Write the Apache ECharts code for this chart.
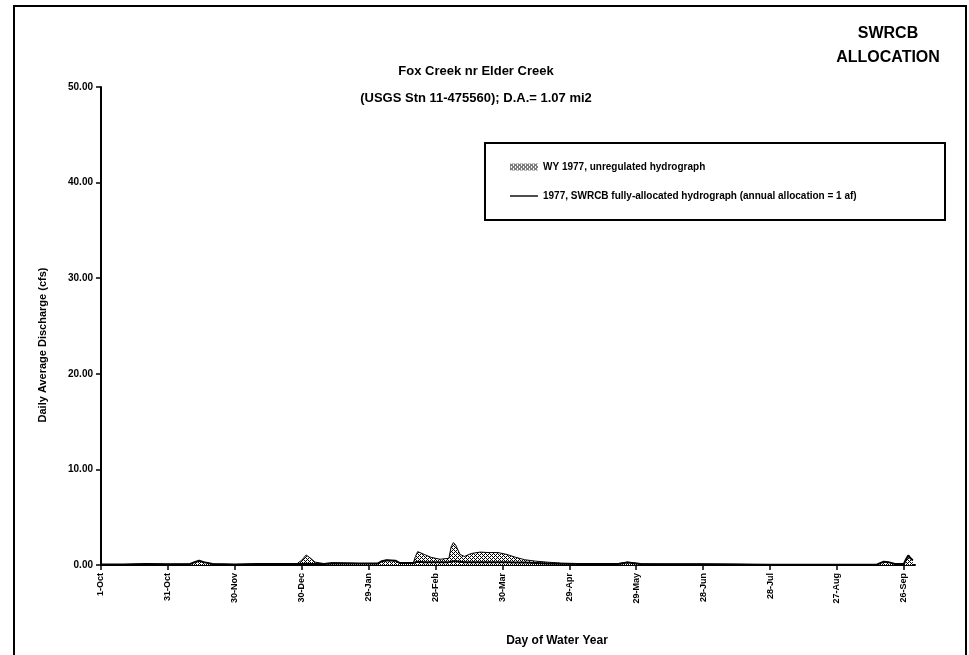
<!DOCTYPE html>
<html>
<head>
<meta charset="utf-8">
<script src="https://cdn.jsdelivr.net/npm/echarts@6/dist/echarts.min.js"></script>
<style>
  html, body { margin: 0; padding: 0; background: #fff; }
  #chart { width: 969px; height: 655px; }
</style>
</head>
<body>
<div id="chart"></div>
<script>
// day of water year (0 = 1-Oct-1976) where the hydrograph was read
const flowDays = [0, 10, 20, 30, 40, 42, 44, 46, 50, 60, 70, 80, 88, 90, 92, 94, 96, 100, 104, 112, 116, 124, 126, 128, 132, 134, 140, 141, 142, 145, 148, 152, 156, 157, 158, 159, 161, 163, 166, 170, 174, 178, 182, 186, 190, 195, 200, 206, 215, 224, 232, 236, 238, 242, 255, 270, 285, 300, 320, 340, 348, 351, 353, 356, 360, 361, 362, 363, 364];
const unregulatedCfs = [0.05, 0.05, 0.1, 0.08, 0.1, 0.3, 0.45, 0.3, 0.1, 0.05, 0.1, 0.1, 0.15, 0.5, 1.05, 0.7, 0.3, 0.15, 0.25, 0.2, 0.15, 0.15, 0.4, 0.5, 0.45, 0.2, 0.2, 0.9, 1.4, 1.1, 0.8, 0.6, 0.7, 1.9, 2.35, 2.1, 1.1, 0.9, 1.2, 1.35, 1.3, 1.3, 1.1, 0.8, 0.55, 0.4, 0.3, 0.2, 0.15, 0.15, 0.15, 0.3, 0.25, 0.12, 0.1, 0.1, 0.08, 0.02, 0.02, 0.03, 0.05, 0.35, 0.3, 0.1, 0.1, 0.6, 1.0, 0.7, 0.5];
const allocatedCfs = [0.05, 0.05, 0.1, 0.08, 0.1, 0.3, 0.45, 0.3, 0.1, 0.05, 0.1, 0.1, 0.1, 0.1, 0.12, 0.1, 0.1, 0.1, 0.15, 0.15, 0.15, 0.15, 0.4, 0.5, 0.45, 0.2, 0.2, 0.3, 0.35, 0.3, 0.3, 0.3, 0.3, 0.35, 0.4, 0.4, 0.35, 0.3, 0.3, 0.3, 0.3, 0.3, 0.3, 0.25, 0.25, 0.2, 0.15, 0.12, 0.1, 0.1, 0.1, 0.25, 0.2, 0.1, 0.08, 0.08, 0.05, 0.02, 0.02, 0.03, 0.05, 0.35, 0.3, 0.1, 0.1, 0.6, 1.0, 0.7, 0.5];

const tickDays = [0, 30, 60, 90, 120, 150, 180, 210, 240, 270, 300, 330, 360];
const tickLabels = ['1-Oct', '31-Oct', '30-Nov', '30-Dec', '29-Jan', '28-Feb', '30-Mar', '29-Apr', '29-May', '28-Jun', '28-Jul', '27-Aug', '26-Sep'];
const yTicks = [0, 10, 20, 30, 40, 50];

const seriesNames = ['WY 1977, unregulated hydrograph', '1977, SWRCB fully-allocated hydrograph (annual allocation = 1 af)'];

const font = '"Liberation Sans", Arial, sans-serif';

// cross-hatch fill like the scanned original
const hatch = document.createElement('canvas');
hatch.width = 4;
hatch.height = 4;
const hc = hatch.getContext('2d');
hc.fillStyle = '#fff';
hc.fillRect(0, 0, 4, 4);
hc.fillStyle = '#000';
[[0, 0], [2, 0], [1, 1], [0, 2], [2, 2], [3, 3]].forEach(([x, y]) => hc.fillRect(x, y, 1, 1));
const hatchFill = { image: hatch, repeat: 'repeat' };

const chart = echarts.init(document.getElementById('chart'), null, { renderer: 'canvas' });

chart.setOption({
  backgroundColor: '#fff',
  animation: false,
  textStyle: { fontFamily: font, color: '#000' },
  title: {
    text: 'Fox Creek nr Elder Creek\n(USGS Stn 11-475560); D.A.= 1.07 mi2',
    left: 471,
    top: 53,
    textAlign: 'center',
    textStyle: { fontFamily: font, fontSize: 13, fontWeight: 'bold', lineHeight: 27, color: '#000' }
  },
  graphic: [
    {
      type: 'rect',
      shape: { x: 14, y: 6, width: 952, height: 660 },
      style: { fill: 'none', stroke: '#000', lineWidth: 2 },
      silent: true
    },
    {
      type: 'text',
      x: 888,
      y: 22,
      style: {
        text: 'SWRCB\nALLOCATION',
        align: 'center',
        fontFamily: font, fontSize: 16, fontWeight: 'bold', lineHeight: 24, fill: '#000'
      }
    },
    {
      type: 'rect',
      shape: { x: 485, y: 143, width: 460, height: 77 },
      style: { fill: '#fff', stroke: '#000', lineWidth: 2 },
      z: 5
    },
    {
      type: 'text',
      x: 557,
      y: 641,
      style: {
        text: 'Day of Water Year',
        align: 'center', verticalAlign: 'middle',
        fontFamily: font, fontSize: 12, fontWeight: 'bold', fill: '#000'
      }
    },
    {
      type: 'text',
      x: 43,
      y: 345,
      rotation: Math.PI / 2,
      style: {
        text: 'Daily Average Discharge (cfs)',
        align: 'center', verticalAlign: 'middle',
        fontFamily: font, fontSize: 11, fontWeight: 'bold', fill: '#000'
      }
    }
  ],
  legend: {
    orient: 'vertical',
    left: 505,
    top: 157,
    itemGap: 19,
    itemWidth: 28,
    itemHeight: 7,
    z: 10,
    textStyle: { fontFamily: font, fontSize: 10, fontWeight: 'bold', color: '#000' },
    data: [
      { name: seriesNames[0], icon: 'rect', itemStyle: { color: hatchFill, borderWidth: 0 } },
      { name: seriesNames[1], icon: 'path://M0,0 L28,0 L28,1.4 L0,1.4 Z', itemStyle: { color: '#000' } }
    ]
  },
  grid: { left: 101, right: 54, top: 87, bottom: 90 },
  xAxis: {
    type: 'value',
    min: 0,
    max: 365,
    splitLine: { show: false },
    axisLine: { lineStyle: { color: '#000', width: 2 } },
    axisTick: { customValues: tickDays, length: 5, lineStyle: { color: '#000', width: 1.5 } },
    axisLabel: {
      customValues: tickDays,
      rotate: 90,
      margin: 8,
      fontFamily: font,
      fontSize: 9,
      fontWeight: 'bold',
      color: '#000',
      formatter: (v) => tickLabels[tickDays.indexOf(v)] || ''
    }
  },
  yAxis: {
    type: 'value',
    min: 0,
    max: 50,
    interval: 10,
    splitLine: { show: false },
    axisLine: { show: true, lineStyle: { color: '#000', width: 2 } },
    axisTick: { length: 5, lineStyle: { color: '#000', width: 1.5 } },
    axisLabel: {
      margin: 8,
      fontFamily: font,
      fontSize: 10,
      fontWeight: 'bold',
      color: '#000',
      formatter: (v) => yTicks.includes(v) ? v.toFixed(2) : ''
    }
  },
  series: [
    {
      name: seriesNames[0],
      type: 'line',
      data: flowDays.map((d, i) => [d, unregulatedCfs[i]]),
      symbol: 'none',
      lineStyle: { color: '#000', width: 1 },
      itemStyle: { color: hatchFill },
      areaStyle: { color: hatchFill, opacity: 1 },
      z: 2
    },
    {
      name: seriesNames[1],
      type: 'line',
      data: flowDays.map((d, i) => [d, allocatedCfs[i]]),
      symbol: 'none',
      lineStyle: { color: '#000', width: 2 },
      itemStyle: { color: '#000' },
      z: 3
    }
  ]
});
</script>
</body>
</html>
